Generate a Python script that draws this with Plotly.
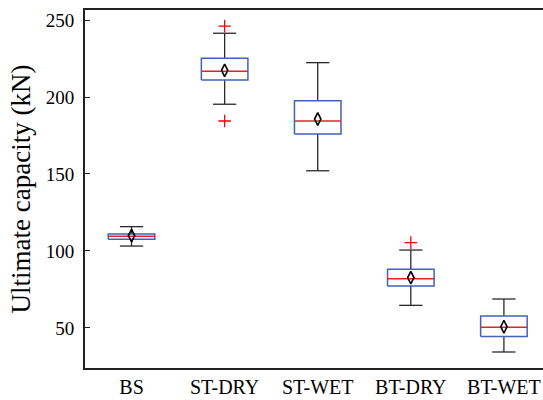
import plotly.graph_objects as go

categories = ["BS", "ST-DRY", "ST-WET", "BT-DRY", "BT-WET"]
lower_whisker = [103.2, 195.3, 152.1, 64.7, 34.4]
q1 = [107.6, 211.0, 176.0, 77.3, 44.4]
median = [109.5, 216.7, 184.4, 82.0, 50.5]
q3 = [111.0, 225.1, 197.6, 88.1, 57.8]
upper_whisker = [115.8, 241.4, 222.3, 100.6, 68.8]
means = [110.0, 217.3, 185.7, 82.7, 50.8]
outlier_cat = [2, 2, 4]
outlier_val = [246.0, 184.4, 105.4]

y_ticks = [50, 100, 150, 200, 250]

pos = list(range(1, len(categories) + 1))
hw = 0.25   # half box width
cw = 0.125  # half cap width

bx, by, mx, my, wx, wy = [], [], [], [], [], []
for i, p in enumerate(pos):
    bx += [p - hw, p + hw, p + hw, p - hw, p - hw, None]
    by += [q1[i], q1[i], q3[i], q3[i], q1[i], None]
    mx += [p - hw, p + hw, None]
    my += [median[i], median[i], None]
    wx += [p, p, None, p - cw, p + cw, None, p, p, None, p - cw, p + cw, None]
    wy += [q3[i], upper_whisker[i], None, upper_whisker[i], upper_whisker[i], None,
           q1[i], lower_whisker[i], None, lower_whisker[i], lower_whisker[i], None]

SERIF = "Liberation Serif, Times New Roman, Times, serif"

fig = go.Figure()
fig.add_trace(go.Scatter(x=wx, y=wy, mode="lines", line=dict(color="#2a2a2a", width=1.3),
                         hoverinfo="skip"))
fig.add_trace(go.Scatter(x=bx, y=by, mode="lines", line=dict(color="#4462b4", width=1.5),
                         hoverinfo="skip"))
fig.add_trace(go.Scatter(x=mx, y=my, mode="lines", line=dict(color="#e8202a", width=1.5),
                         hoverinfo="skip"))
fig.add_trace(go.Scatter(x=pos, y=means, mode="markers",
                         marker=dict(symbol="diamond-tall-open", size=9, color="black",
                                     line=dict(width=1.6, color="black"))))
fig.add_trace(go.Scatter(x=outlier_cat, y=outlier_val, mode="markers",
                         marker=dict(symbol="cross-thin-open", size=9, color="#ff0000",
                                     line=dict(width=1.3, color="#ff0000"))))

fig.update_layout(
    width=543, height=400,
    margin=dict(l=85, r=0, t=10, b=32, autoexpand=False),
    paper_bgcolor="white", plot_bgcolor="white",
    showlegend=False,
    font=dict(family=SERIF, color="black"),
)
fig.update_xaxes(
    range=[0.5, 5.42], tickvals=pos, ticktext=categories, showgrid=False, zeroline=False,
    showline=True, linecolor="#222222", linewidth=2, mirror=True, ticks="",
    tickfont=dict(size=20, family=SERIF), automargin=False,
)
fig.update_yaxes(
    range=[24, 256.5], tickvals=y_ticks, showgrid=False, zeroline=False,
    showline=True, linecolor="#222222", linewidth=2, ticks="inside", ticklen=5,
    tickcolor="#222222", tickfont=dict(size=19, family=SERIF), automargin=False,
    ticklabelstandoff=5,
    title=dict(text="Ultimate capacity (kN)", font=dict(size=27, family=SERIF), standoff=7),
)
fig.write_html(
    "out.html",
    config={"displayModeBar": False},
    post_script="document.body.style.margin='0';"
                "document.body.style.overflow='hidden';"
                "document.documentElement.style.overflow='hidden';",
)
